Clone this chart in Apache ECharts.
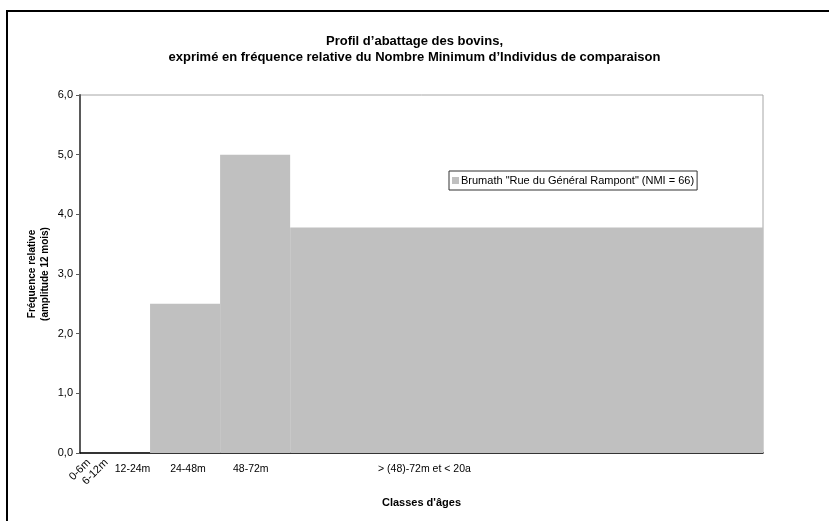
<!DOCTYPE html>
<html>
<head>
<meta charset="utf-8">
<script src="https://cdn.jsdelivr.net/npm/echarts@6/dist/echarts.min.js"></script>
<style>
html,body{margin:0;padding:0;background:#fff;}
#chart{width:829px;height:521px;}
</style>
</head>
<body>
<div id="chart"></div>
<script>
// Age classes (months) and relative frequencies
const classLabels = ['0-6m', '6-12m', '12-24m', '24-48m', '48-72m', '> (48)-72m et < 20a'];
const binStart = [0, 6, 12, 24, 48, 72];
const binEnd = [6, 12, 24, 48, 72, 234];
const frequency = [0, 0, 0, 2.5, 5.0, 3.78];
// where each class label sits on the month axis
const labelAt = [3, 9, 18, 37, 58.5, 118];
const yTicks = [0, 1, 2, 3, 4, 5, 6];
const seriesName = 'Brumath "Rue du Général Rampont" (NMI = 66)';

const FONT = '"Liberation Sans", Arial, sans-serif';
const chart = echarts.init(document.getElementById('chart'));

const binData = frequency.map((v, i) => [binStart[i], binEnd[i], v]);
const labelFor = v => {
  const i = labelAt.indexOf(v);
  return i >= 0 ? classLabels[i] : '';
};

chart.setOption({
  animation: false,
  backgroundColor: '#fff',
  textStyle: { fontFamily: FONT },
  graphic: [{
    type: 'rect',
    shape: { x: 7, y: 11, width: 900, height: 700 },
    style: { fill: 'none', stroke: '#000', lineWidth: 2 },
    silent: true, z: 100
  }],
  title: {
    text: "Profil d\u2019abattage des bovins,\nexprimé en fréquence relative du Nombre Minimum d\u2019Individus de comparaison",
    left: 'center',
    top: 28,
    textStyle: { fontFamily: FONT, fontSize: 13, fontWeight: 'bold', color: '#000', lineHeight: 16 }
  },
  legend: {
    data: [seriesName],
    left: 449,
    top: 171,
    orient: 'vertical',
    icon: 'rect',
    itemWidth: 7,
    itemHeight: 7,
    itemGap: 0,
    padding: [4, 3, 4, 3],
    borderColor: '#333',
    borderWidth: 1,
    backgroundColor: '#fff',
    textStyle: { fontFamily: FONT, fontSize: 11, color: '#000', padding: [0, 0, 0, -3] }
  },
  grid: {
    left: 80, right: 66, top: 95, bottom: 68,
    show: true, borderColor: '#a6a6a6', borderWidth: 1, backgroundColor: '#fff'
  },
  xAxis: [{
    type: 'value', min: 0, max: binEnd[binEnd.length - 1],
    name: "Classes d'âges", nameLocation: 'middle', nameGap: 44,
    nameMoveOverlap: false,
    nameTextStyle: { fontFamily: FONT, fontSize: 11, fontWeight: 'bold', color: '#000' },
    axisLine: { show: true, lineStyle: { color: '#000', width: 1.5 } },
    axisTick: { show: false },
    splitLine: { show: false },
    axisLabel: {
      customValues: labelAt.slice(2),
      formatter: labelFor,
      fontFamily: FONT, fontSize: 10.5, color: '#000', margin: 11
    }
  }, {
    type: 'value', min: 0, max: binEnd[binEnd.length - 1], position: 'bottom',
    axisLine: { show: false },
    axisTick: { show: false },
    splitLine: { show: false },
    axisLabel: {
      customValues: labelAt.slice(0, 2),
      formatter: labelFor,
      rotate: 45,
      fontFamily: FONT, fontSize: 11, color: '#000', margin: 8
    }
  }],
  yAxis: {
    type: 'value', min: 0, max: 6, interval: 1,
    name: 'Fréquence relative\n(amplitude 12 mois)',
    nameLocation: 'middle', nameGap: 28,
    nameMoveOverlap: false,
    nameTextStyle: { fontFamily: FONT, fontSize: 10, fontWeight: 'bold', color: '#000', lineHeight: 13 },
    axisLine: { show: true, lineStyle: { color: '#5a5a5a', width: 2 } },
    axisTick: { show: true, inside: false, length: 4, lineStyle: { color: '#5a5a5a', width: 1 } },
    splitLine: { show: false },
    axisLabel: {
      customValues: yTicks,
      formatter: v => v.toFixed(1).replace('.', ','),
      fontFamily: FONT, fontSize: 11, color: '#000', margin: 7
    }
  },
  series: [{
    name: seriesName,
    type: 'custom',
    xAxisIndex: 0,
    itemStyle: { color: '#c0c0c0' },
    encode: { x: [0, 1], y: 2 },
    data: binData,
    renderItem: (params, api) => {
      const p0 = api.coord([api.value(0), api.value(2)]);
      const p1 = api.coord([api.value(1), 0]);
      return {
        type: 'rect',
        shape: { x: p0[0], y: p0[1], width: p1[0] - p0[0], height: p1[1] - p0[1] },
        style: { fill: '#c0c0c0' }
      };
    }
  }]
});
</script>
</body>
</html>
